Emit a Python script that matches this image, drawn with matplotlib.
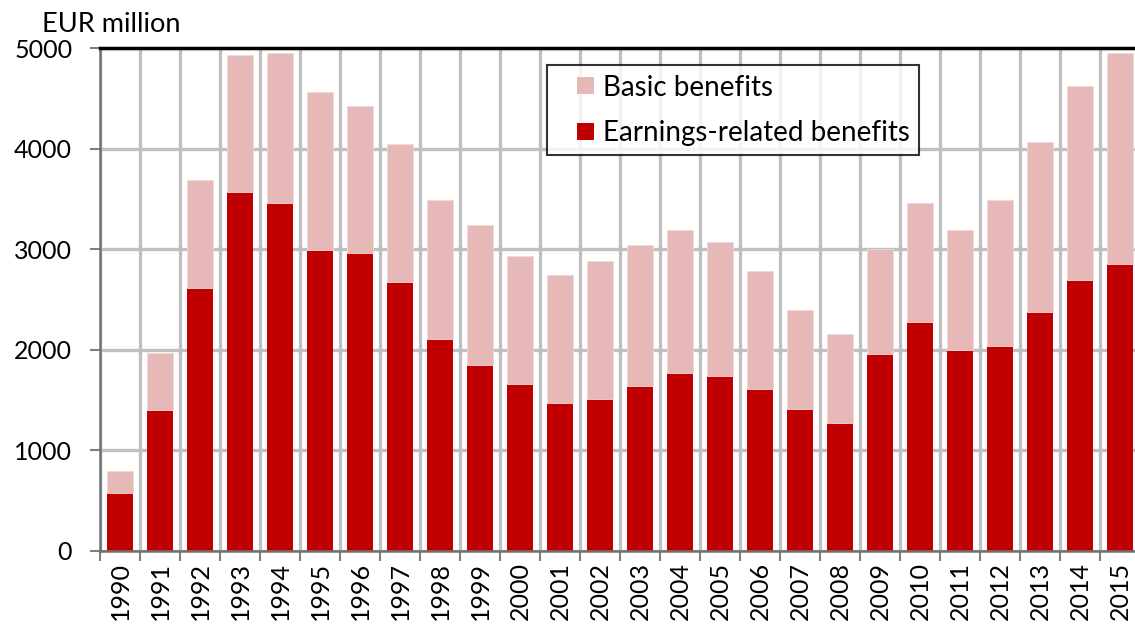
import matplotlib.pyplot as plt
from matplotlib.legend_handler import HandlerPatch
from matplotlib.patches import Patch, Rectangle
import numpy as np

years = [str(y) for y in range(1990, 2016)]
earnings = [573, 1400, 2614, 3571, 3458, 2993, 2966, 2677, 2107, 1848,
            1655, 1472, 1509, 1638, 1771, 1738, 1612, 1409, 1270, 1960,
            2279, 2000, 2037, 2372, 2697, 2857]
totals = [792, 1970, 3690, 4935, 4958, 4564, 4424, 4052, 3488, 3239,
          2930, 2744, 2880, 3043, 3192, 3076, 2784, 2392, 2156, 3005,
          3464, 3192, 3491, 4066, 4626, 4952]
basic = [t - e for t, e in zip(totals, earnings)]

DARK_RED = '#C00000'
PINK = '#E6B8B7'
GRID = '#C0C0C0'

plt.rcParams['font.family'] = ['Lato', 'DejaVu Sans']


def small_square(legend, orig_handle, xdescent, ydescent, width, height, fontsize):
    # square key pushed to the right end of the handle box
    s = 12.2
    return Rectangle((-xdescent + width - s, -ydescent + (height - s) / 2), s, s)


fig = plt.figure(figsize=(11.35, 6.27), dpi=100)
ax = fig.add_axes([100 / 1135, 1 - 550.5 / 627, 1040 / 1135, 502.2 / 627])

x = np.arange(len(years))
ax.bar(x, earnings, width=0.667, color=DARK_RED, zorder=3)
ax.bar(x, basic, bottom=earnings, width=0.667, color=PINK, zorder=3,
       edgecolor='#F2D9D9', linewidth=0.6)

ax.set_xlim(-0.5, len(years) - 0.5)
ax.set_ylim(0, 5000)
ax.set_yticks(range(0, 5001, 1000))

# category boundaries carry the ticks and vertical grid lines
ax.set_xticks(x)
ax.set_xticklabels(years, rotation=90, fontsize=18)
ax.set_xticks(np.arange(-0.5, len(years)), minor=True)
ax.tick_params(axis='x', which='major', length=0, pad=8)
ax.tick_params(axis='x', which='minor', length=7, width=1.5, color='#808080')
ax.tick_params(axis='y', length=7, width=1.5, color='#808080', labelsize=18, pad=13)

ax.grid(axis='y', color=GRID, linewidth=2.4, zorder=0)
ax.grid(axis='x', which='minor', color=GRID, linewidth=2.4, zorder=0)
ax.set_axisbelow(True)

ax.spines['top'].set_color('black')
ax.spines['top'].set_linewidth(2.5)
ax.spines['top'].set_zorder(4)
ax.spines['right'].set_visible(False)
for side in ('left', 'bottom'):
    ax.spines[side].set_color('#707070')
    ax.spines[side].set_linewidth(1.8)
    ax.spines[side].set_zorder(4)

fig.text(42 / 1135, 1 - 24 / 627, 'EUR million', fontsize=19.5, va='center', ha='left')

keys = [Patch(facecolor=PINK, edgecolor='none', label='Basic benefits'),
        Patch(facecolor=DARK_RED, edgecolor='none', label='Earnings-related benefits')]
leg = ax.legend(handles=keys, loc='upper left',
                bbox_to_anchor=(0.43, 0.967), borderaxespad=0, fontsize=20,
                frameon=True, fancybox=False, edgecolor='black',
                handlelength=1.35, handleheight=0.7, handletextpad=0.3,
                labelspacing=0.69, borderpad=0.35,
                handler_map={Patch: HandlerPatch(patch_func=small_square)})
leg.get_frame().set_linewidth(1.5)
leg.set_zorder(5)

fig.savefig('out.png', dpi=100)
